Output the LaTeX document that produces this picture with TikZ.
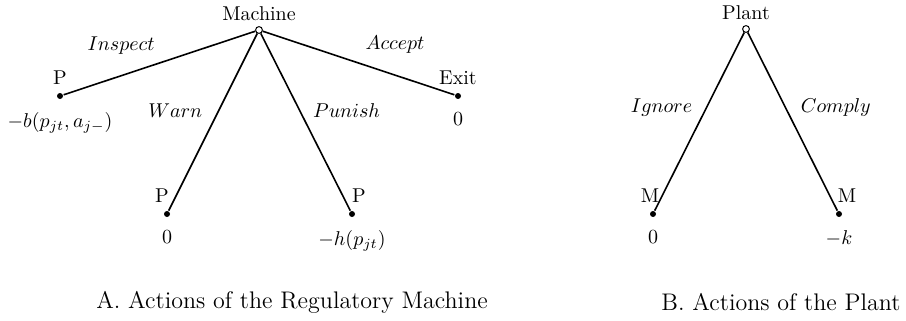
\documentclass[tikz,border=0pt]{standalone}
\usepackage{tikz}
\usetikzlibrary{positioning}

\begin{document}
\begin{tikzpicture}[x=0.5pt,y=-0.5pt,line width=0.8pt]
       \tikzstyle{decision}=[circle,draw,fill=white,line width=0.5pt,inner sep=0pt,minimum size=3.4pt]
       \tikzstyle{terminal}=[circle,fill,inner sep=0pt,minimum size=3pt,on grid]
       \tikzstyle{payoff}=[label distance=2.5pt]
       \tikzstyle{caption}=[font=\large]
       \useasboundingbox (0,0) rectangle (906,321);

       % panel A: the regulatory machine moves
       \node[decision,label={[label distance=-1pt]above:Machine}] (mach) at (259,30) {};
       \node[terminal,label=above:P,label={[payoff]below:$-b(p_{jt},a_{j-})$}]
             (insp) [below left=33pt and 99.5pt of mach] {};
       \node[terminal,label={[xshift=-2.5pt]above:P},label={[payoff]below:$0$}]
             (warn) [below left=92pt and 46pt of mach] {};
       \node[terminal,label={[xshift=3.5pt]above:P},label={[payoff]below:$-h(p_{jt})$}]
             (pun) [below right=92pt and 46.5pt of mach] {};
       \node[terminal,label=above:Exit,label={[payoff]below:$0$}]
             (acc) [below right=33pt and 99.5pt of mach] {};

       \path[draw]
       (mach) edge node[pos=0.7,above=7pt] {$Inspect$} (insp)
              edge node[pos=0.435,left=4.5pt] {$Warn$} (warn)
              edge node[pos=0.435,right=3pt] {$Punish$} (pun)
              edge node[pos=0.69,above=7pt] {$Accept$} (acc);

       % panel B: the plant moves
       \node[decision,label={[label distance=-1pt]above:Plant}] (plant) at (746,29) {};
       \node[terminal,label={[xshift=-1.5pt]above:M},label={[payoff]below:$0$}]
             (ign) [below left=92.5pt and 46.5pt of plant] {};
       \node[terminal,label={[xshift=4pt]above:M},label={[payoff]below:$-k$}]
             (comp) [below right=92.5pt and 46.5pt of plant] {};

       \path[draw]
       (plant) edge node[pos=0.42,left=3.5pt] {$Ignore$} (ign)
               edge node[pos=0.42,right=4pt] {$Comply$} (comp);

       \node[caption] (capA) at (292,302) {A. Actions of the Regulatory Machine};
       \node[caption] (capB) at (781,302) {B. Actions of the Plant};
\end{tikzpicture}
\end{document}
